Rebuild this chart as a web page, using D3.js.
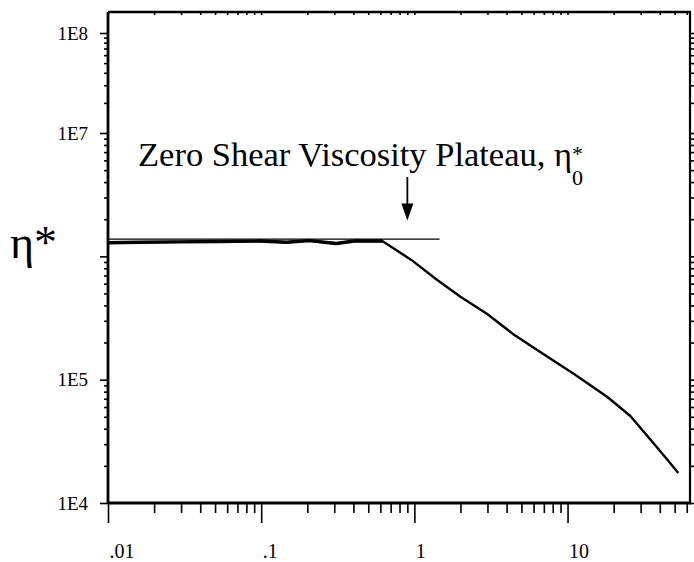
<!DOCTYPE html>
<html>
<head>
<meta charset="utf-8">
<script src="https://cdn.jsdelivr.net/npm/d3@7"></script>
<style>
  body { margin: 0; background: #fff; }
  svg { display: block; font-family: "Liberation Serif", "Times New Roman", serif; }
  .tick line { stroke: #000; stroke-width: 1.6; }
  .tick text { fill: #000; }
</style>
</head>
<body>
<div id="chart"></div>
<script>
// frequency (rad/s) and complex viscosity eta*
const frequency = [0.01, 0.016, 0.029, 0.053, 0.097, 0.146, 0.206, 0.309, 0.406, 0.617,
  0.95, 1.41, 2.0, 2.99, 4.4, 6.63, 10.9, 18.2, 25.7, 36.3, 45.0, 52.8];
const etaStar = [1.29e6, 1.30e6, 1.31e6, 1.32e6, 1.33e6, 1.30e6, 1.34e6, 1.27e6, 1.33e6, 1.33e6,
  9.4e5, 6.43e5, 4.7e5, 3.41e5, 2.35e5, 1.68e5, 1.12e5, 7.23e4, 5.07e4, 3.06e4, 2.23e4, 1.75e4];

// zero shear plateau reference line
const plateauFreq = [0.01, 1.46];
const plateauEta = [1.38e6, 1.38e6];

const xTickValues = [0.01, 0.1, 1, 10];
const xTickLabels = [".01", ".1", "1", "10"];
const yTickValues = [1e4, 1e5, 1e6, 1e7, 1e8];
const yTickLabels = ["1E4", "1E5", "", "1E7", "1E8"];

const annotationText = "Zero Shear Viscosity Plateau, \u03b7";
const arrowFreq = 0.9;
const arrowEta = [4.4e6, 1.95e6];

const width = 694;
const height = 562;
const plotLeft = 108, plotRight = 690, plotTop = 12, plotBottom = 503;
const serif = "'Liberation Serif', 'Times New Roman', Times, serif";

const svg = d3.select("#chart").append("svg")
  .attr("width", width)
  .attr("height", height);

const x = d3.scaleLog().domain([0.01, 63]).range([plotLeft, plotRight]);
// the original y axis is not evenly spaced above 1E7, so the scale is piecewise
const y = d3.scaleLog().domain([1e4, 1e7, 1e8]).range([plotBottom, 133, 33]);

function minorTicks(lo, hi) {
  const out = [];
  for (let e = lo; e < hi; e++) {
    for (let m = 2; m <= 9; m++) out.push(m * Math.pow(10, e));
  }
  return out;
}

const xMinor = minorTicks(-2, 2).filter((d) => x(d) <= plotRight);
const yMinor = minorTicks(4, 9).filter((d) => y(d) >= plotTop);

// bottom axis
svg.append("g")
  .attr("transform", `translate(0,${plotBottom})`)
  .call(d3.axisBottom(x).tickValues(xMinor).tickSize(10).tickFormat(""))
  .call((g) => g.select(".domain").remove());

svg.append("g")
  .attr("transform", `translate(0,${plotBottom})`)
  .call(d3.axisBottom(x).tickValues(xTickValues).tickSize(20)
    .tickFormat((d, i) => xTickLabels[i]))
  .call((g) => g.select(".domain").remove())
  .call((g) => g.selectAll("text")
    .attr("text-anchor", "start")
    .attr("x", 1)
    .attr("y", 55)
    .attr("dy", 0)
    .style("font-family", serif)
    .style("font-size", "20px"));

// top axis, small inward ticks
svg.append("g")
  .attr("transform", `translate(0,${plotTop})`)
  .call(d3.axisTop(x).tickValues(xMinor.concat(xTickValues)).tickSize(-3).tickFormat(""))
  .call((g) => g.select(".domain").remove());

// left axis
svg.append("g")
  .attr("transform", `translate(${plotLeft},0)`)
  .call(d3.axisLeft(y).tickValues(yMinor).tickSize(4).tickFormat(""))
  .call((g) => g.select(".domain").remove());

svg.append("g")
  .attr("transform", `translate(${plotLeft},0)`)
  .call(d3.axisLeft(y).tickValues(yTickValues).tickSize(8).tickPadding(12)
    .tickFormat((d, i) => yTickLabels[i]))
  .call((g) => g.select(".domain").remove())
  .call((g) => g.selectAll("text")
    .style("font-family", serif)
    .style("font-size", "19px"));

// right axis
svg.append("g")
  .attr("transform", `translate(${plotRight},0)`)
  .call(d3.axisRight(y).tickValues(yMinor.concat(yTickValues)).tickSize(4).tickFormat(""))
  .call((g) => g.select(".domain").remove());

// frame
const frame = svg.append("g").attr("stroke", "#000").attr("fill", "none");
frame.append("line").attr("x1", plotLeft).attr("x2", plotLeft).attr("y1", plotTop).attr("y2", plotBottom)
  .attr("stroke-width", 2.8);
frame.append("line").attr("x1", plotLeft).attr("x2", plotRight + 1).attr("y1", plotBottom).attr("y2", plotBottom)
  .attr("stroke-width", 2.8);
frame.append("line").attr("x1", plotLeft).attr("x2", plotRight + 1).attr("y1", plotTop).attr("y2", plotTop)
  .attr("stroke-width", 2.4);
frame.append("line").attr("x1", plotRight).attr("x2", plotRight).attr("y1", plotTop).attr("y2", plotBottom)
  .attr("stroke-width", 2.2);

// data
const line = d3.line()
  .x((d) => x(d[0]))
  .y((d) => y(d[1]));

svg.append("path")
  .datum(d3.zip(plateauFreq, plateauEta))
  .attr("d", line)
  .attr("fill", "none")
  .attr("stroke", "#000")
  .attr("stroke-width", 1.4);

svg.append("path")
  .datum(d3.zip(frequency, etaStar))
  .attr("d", line)
  .attr("fill", "none")
  .attr("stroke", "#000")
  .attr("stroke-width", 2.4)
  .attr("stroke-linejoin", "round");

// thicker overlap on the plateau part (two traces on top of each other)
svg.append("path")
  .datum(d3.zip(frequency, etaStar).filter((d) => d[0] <= 0.617))
  .attr("d", line)
  .attr("fill", "none")
  .attr("stroke", "#000")
  .attr("stroke-width", 3.4)
  .attr("stroke-linejoin", "round");

// y axis title
svg.append("text")
  .attr("x", 10)
  .attr("y", 258)
  .style("font-family", serif)
  .style("font-size", "46px")
  .text("\u03b7*");

// annotation with eta_0^* as sub/superscript tspans
const anno = svg.append("text")
  .attr("x", 138)
  .attr("y", 166)
  .style("font-family", serif)
  .style("font-size", "34.5px");

anno.append("tspan").text(annotationText);
anno.append("tspan")
  .attr("dy", -5)
  .style("font-size", "22px")
  .text("*");
anno.append("tspan")
  .attr("dx", -11)
  .attr("dy", 24)
  .style("font-size", "22px")
  .text("0");

// arrow
const ax = x(arrowFreq);
const arrowTip = y(arrowEta[1]);
svg.append("line")
  .attr("x1", ax).attr("x2", ax)
  .attr("y1", y(arrowEta[0])).attr("y2", arrowTip - 10)
  .attr("stroke", "#000")
  .attr("stroke-width", 1.8);

svg.append("path")
  .attr("d", `M${ax - 6},${arrowTip - 17} L${ax + 6},${arrowTip - 17} L${ax},${arrowTip} Z`)
  .attr("fill", "#000");
</script>
</body>
</html>
